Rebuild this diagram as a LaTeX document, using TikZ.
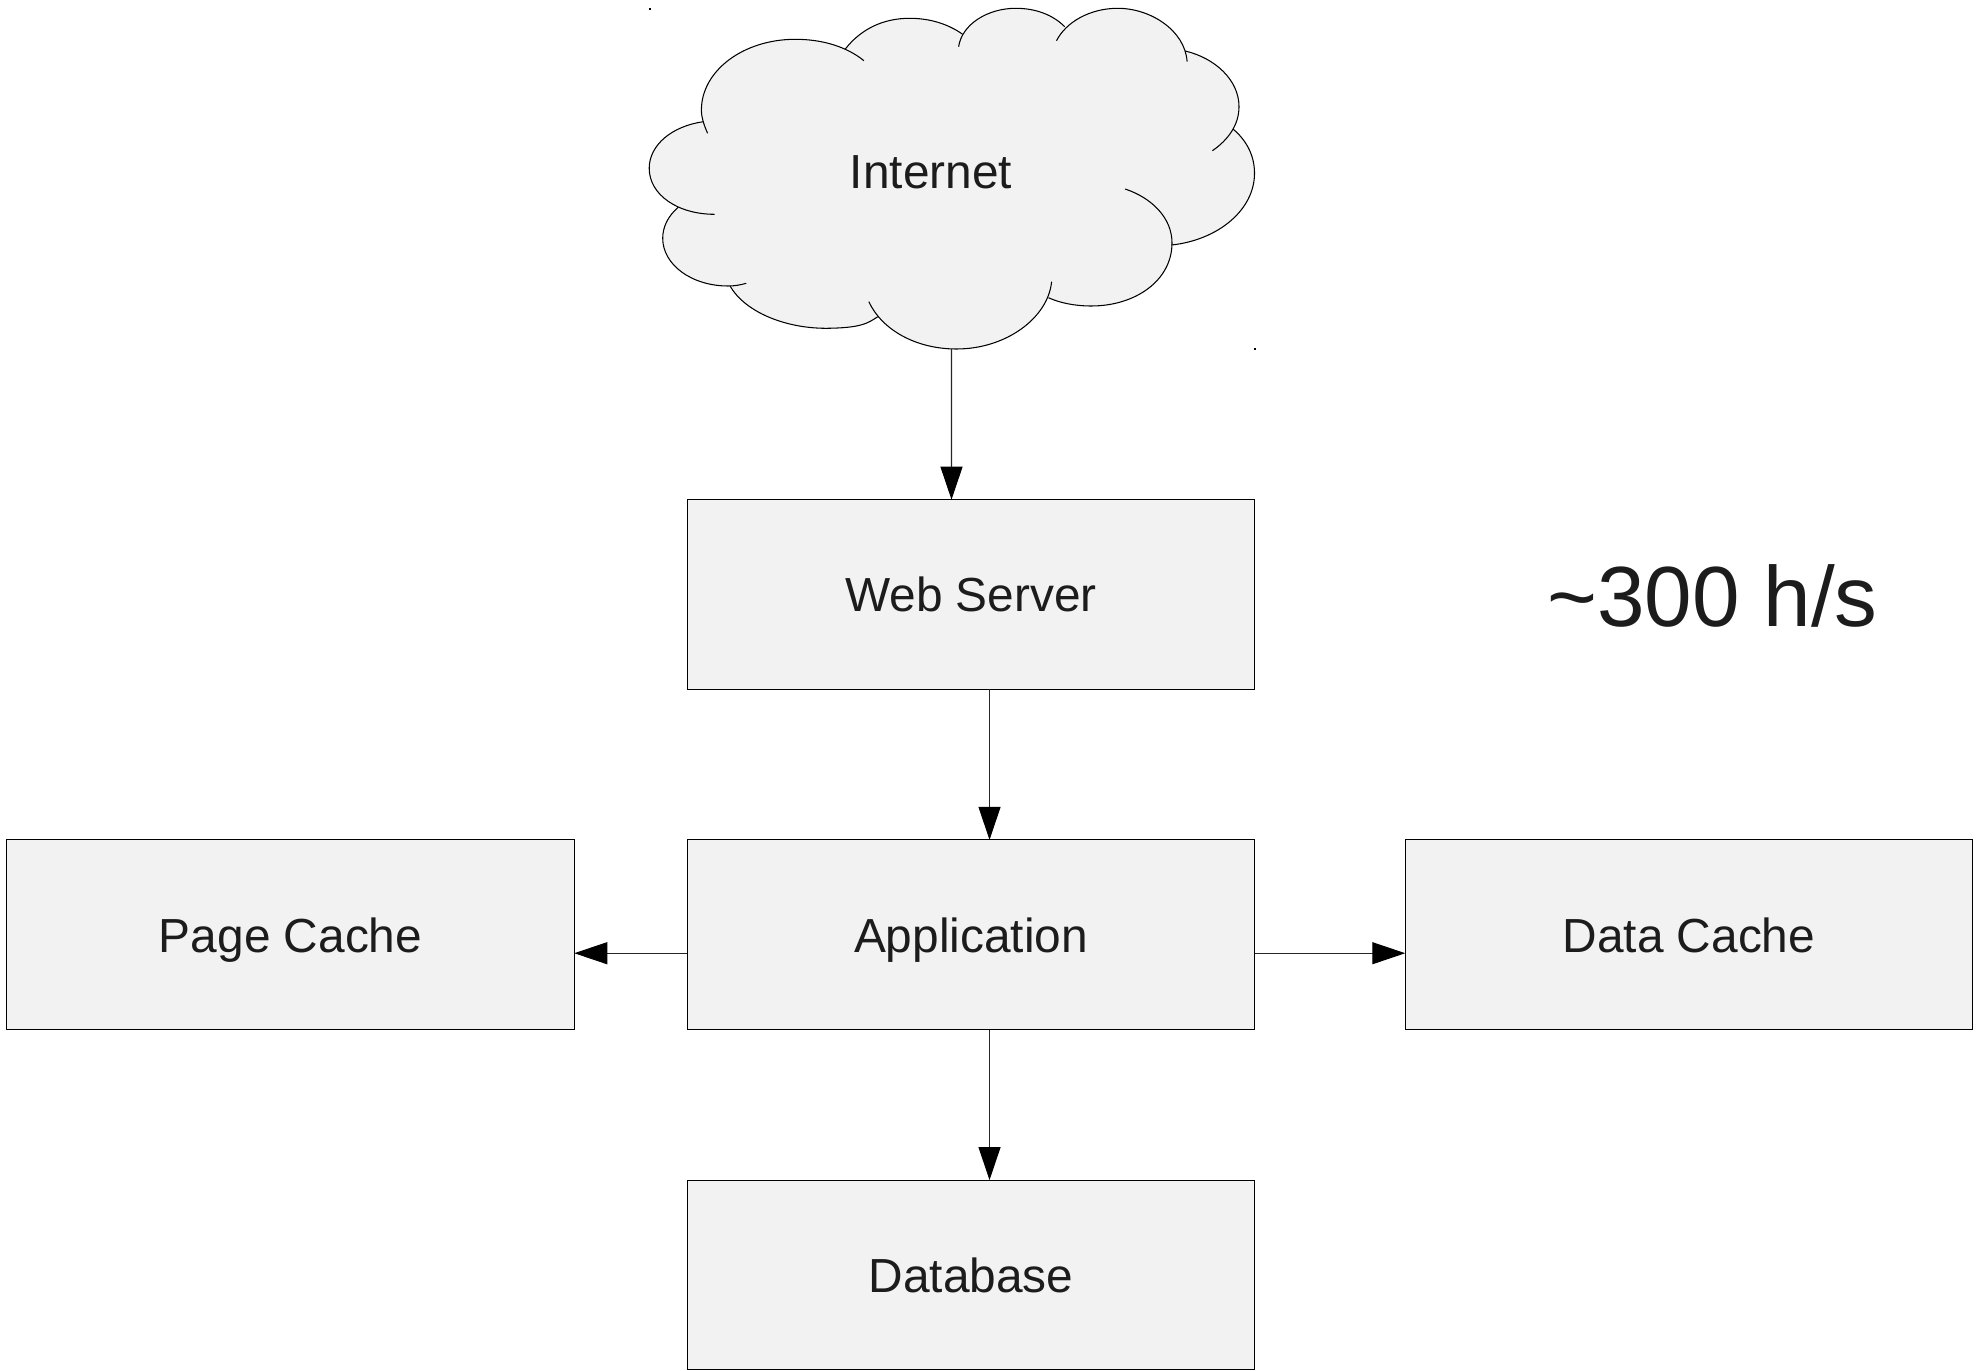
\documentclass[tikz,border=0pt]{standalone}
\usepackage{fontspec}
\setmainfont{Liberation Sans}
\usetikzlibrary{positioning}
\usetikzlibrary{arrows.meta}
\definecolor{boxgray}{HTML}{F2F2F2}
\definecolor{inkgray}{HTML}{1C1C1C}
% cloud outline pieces
\def\lobeA{(707.6,133.3) .. controls (704,125) and (701.4,118) .. (701.4,110) .. controls (701.4,71) and (743,39.3) .. (795.3,39.3) .. controls (823,39.3) and (847,47) .. (863.9,60.7)}
\def\lobeB{(845.1,49.3) .. controls (860,30) and (882,18.3) .. (909.6,18.3) .. controls (930,18.3) and (948,24) .. (962.7,34.3)}
\def\lobeC{(958.6,46.7) .. controls (962,24) and (988,8.3) .. (1015.7,8.3) .. controls (1036,8.3) and (1053,15) .. (1064.7,26.7)}
\def\lobeD{(1056.5,40.7) .. controls (1066,22) and (1090,8.3) .. (1117.8,8.3) .. controls (1150,8.3) and (1185,30) .. (1187.1,61.7)}
\def\lobeE{(1185.1,51) .. controls (1215,58) and (1239,80) .. (1239,106.7) .. controls (1239,125) and (1228,140) .. (1212.4,150.7)}
\def\lobeF{(1233.3,129.3) .. controls (1246,140) and (1254.5,155) .. (1254.5,173.3) .. controls (1254.5,210) and (1218,240) .. (1171.6,245)}
\def\lobeG{(1125.1,189) .. controls (1152,198) and (1172,218) .. (1172,243) .. controls (1172,280) and (1136,306) .. (1091.2,306) .. controls (1075,306) and (1060,303) .. (1048.4,297.7)}
\def\lobeH{(1051.6,281.7) .. controls (1048,318) and (1006,349) .. (956.5,349) .. controls (916,349) and (882,330) .. (868.8,301.7)}
\def\lobeI{(877.8,316.7) .. controls (868,323) and (862,328) .. (826,328.3) .. controls (785,328.3) and (745,312) .. (730,286)}
\def\lobeJ{(746.3,283.3) .. controls (740,285) and (735,286) .. (728,286) .. controls (692,286) and (662.7,265) .. (662.7,238.3) .. controls (662.7,227) and (668,216) .. (678.2,207.3)}
\def\lobeK{(714.5,214.3) .. controls (678,214.3) and (649.2,195) .. (649.2,168.3) .. controls (649.2,145) and (672,126) .. (703.5,121.7)}

\begin{document}
\begin{tikzpicture}[x=0.01cm, y=-0.01cm,
    tier/.style={draw=black, line width=0.3pt, fill=boxgray, text=inkgray, outer sep=0pt,
      minimum width=5.67cm, minimum height=1.895cm, text height=9.9pt, text depth=0pt,
      font=\fontsize{13.6}{16}\selectfont},
    flow/.style={draw=black!85, line width=0.3pt, -{Triangle[length=0.33cm, width=0.22cm, color=black, fill=black]}},
    lobe/.style={draw=black, line width=0.3pt}]
  \useasboundingbox (0,0) rectangle (1986,1370);

  % cloud
  \fill[boxgray] \lobeA -- \lobeB -- \lobeC -- \lobeD -- \lobeE -- \lobeF -- \lobeG -- \lobeH -- \lobeI -- \lobeJ -- \lobeK -- cycle;
  \foreach \piece in {\lobeA, \lobeB, \lobeC, \lobeD, \lobeE, \lobeF, \lobeG, \lobeH, \lobeI, \lobeJ, \lobeK}
    \draw[lobe] \piece;
  \fill[black] (649,8) rectangle (651,10);
  \fill[black] (1253.5,348) rectangle (1255.5,350);
  \node[text=inkgray, font=\fontsize{13.6}{16}\selectfont] (internet) at (931,172) {Internet};
  \coordinate (cloudbottom) at (951.5,349);

  \node[tier] (webserver) at (971,594.5) {Web Server};
  \node[tier, below=1.505cm of webserver] (application) {Application};
  \node[tier, below=1.505cm of application] (database) {Database};
  \node[tier, left=1.13cm of application] (pagecache) {Page Cache};
  \node[tier, right=1.505cm of application] (datacache) {Data Cache};
  \node[text=inkgray, font=\fontsize{24.3}{28}\selectfont] (rate) at (1712.5,595.5) {\textasciitilde300 h/s};

  \draw[flow] (cloudbottom) -- ([xshift=-0.195cm]webserver.north);
  \draw[flow] ([xshift=0.185cm]webserver.south) -- ([xshift=0.185cm]application.north);
  \draw[flow] ([xshift=0.185cm]application.south) -- ([xshift=0.185cm]database.north);
  \draw[flow] ([yshift=-0.185cm]application.west) -- ([yshift=-0.185cm]pagecache.east);
  \draw[flow] ([yshift=-0.185cm]application.east) -- ([yshift=-0.185cm]datacache.west);
\end{tikzpicture}
\end{document}
